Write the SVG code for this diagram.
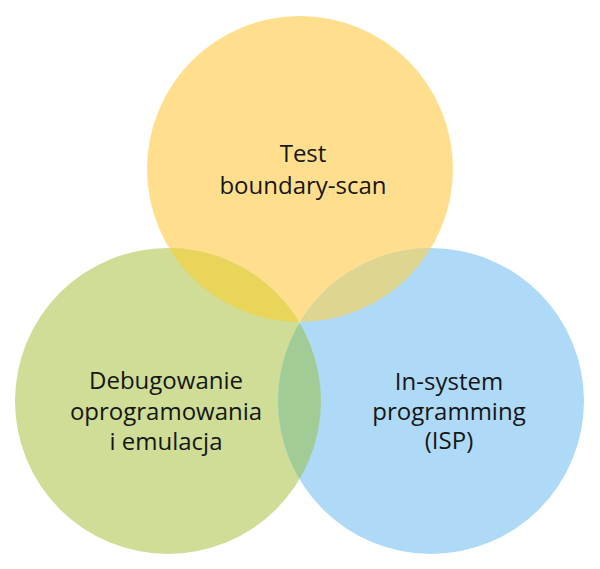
<svg xmlns="http://www.w3.org/2000/svg" width="600" height="569" viewBox="0 0 600 569">
<defs>
<style>
.lbl{font-family:"Open Sans","Noto Sans","DejaVu Sans",sans-serif;font-size:24px;fill:#161616;text-anchor:middle}
</style>
<clipPath id="cTop"><circle cx="300" cy="169" r="153"/></clipPath>
<clipPath id="cLeft"><circle cx="168" cy="401" r="153"/></clipPath>
</defs>
<rect width="600" height="569" fill="#ffffff"/>
<g id="node-top">
<circle cx="300" cy="169" r="153" fill="#ffdf8e"/>
</g>
<g id="node-left">
<circle cx="168" cy="401" r="153" fill="#cfdd96"/>
</g>
<g id="node-right">
<circle cx="431" cy="401" r="153" fill="#aedaf8"/>
</g>
<g id="overlaps">
<circle cx="168" cy="401" r="153" fill="#e8d55a" clip-path="url(#cTop)"/>
<circle cx="431" cy="401" r="153" fill="#ddd590" clip-path="url(#cTop)"/>
<circle cx="431" cy="401" r="153" fill="#a1cc95" clip-path="url(#cLeft)"/>
</g>
<g id="labels">
<text class="lbl" x="303" y="162">Test</text>
<text class="lbl" x="303" y="194">boundary-scan</text>
<text class="lbl" x="166" y="389">Debugowanie</text>
<text class="lbl" x="166" y="420">oprogramowania</text>
<text class="lbl" x="166" y="450">i emulacja</text>
<text class="lbl" x="449" y="390">In-system</text>
<text class="lbl" x="449" y="420">programming</text>
<text class="lbl" x="449" y="449">(ISP)</text>
</g>
</svg>
